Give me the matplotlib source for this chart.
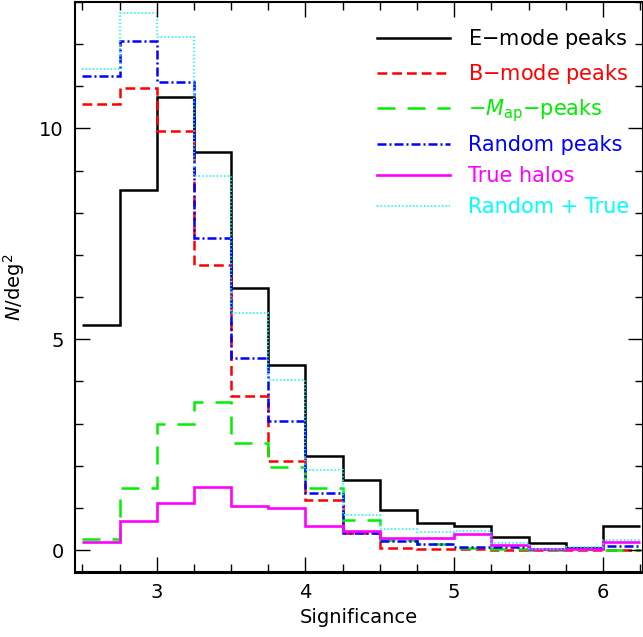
import numpy as np
import matplotlib
matplotlib.use("Agg")
import matplotlib.pyplot as plt
from matplotlib.ticker import MultipleLocator

# bin edges of the significance histogram
edges = np.arange(2.5, 6.2501, 0.25)

# number density of peaks per bin (N/deg^2)
e_mode = [5.34, 8.55, 10.74, 9.45, 6.22, 4.39, 2.23, 1.66, 0.95, 0.64, 0.57, 0.31, 0.17, 0.05, 0.57]
b_mode = [10.57, 10.97, 9.95, 6.75, 3.66, 2.11, 1.19, 0.40, 0.05, 0.03, 0.02, 0.01, 0.0, 0.0, 0.0]
map_peaks = [0.26, 1.47, 2.99, 3.52, 2.54, 1.98, 1.47, 0.71, 0.24, 0.14, 0.05, 0.02, 0.01, 0.02, 0.0]
random_peaks = [11.24, 12.07, 11.09, 7.39, 4.56, 3.06, 1.36, 0.40, 0.22, 0.15, 0.08, 0.07, 0.02, 0.05, 0.1]
true_halos = [0.19, 0.68, 1.11, 1.49, 1.05, 0.99, 0.56, 0.46, 0.29, 0.29, 0.37, 0.12, 0.02, 0.03, 0.19]
random_true = [11.42, 12.74, 12.17, 8.88, 5.63, 4.04, 1.90, 0.83, 0.50, 0.43, 0.46, 0.17, 0.03, 0.07, 0.24]

labels = ['E$-$mode peaks', 'B$-$mode peaks', r'$-M_{\rm ap}$$-$peaks',
          'Random peaks', 'True halos', 'Random + True']

plt.rcParams['font.family'] = ['DejaVu Sans']
plt.rcParams['mathtext.fontset'] = 'dejavusans'

fig = plt.figure(figsize=(6.43, 6.37), dpi=100)
ax = fig.add_axes([0.1166, 0.102, 0.8834, 0.895])

series = [
    (e_mode, 'black', '-', 1.8),
    (b_mode, 'red', (0, (3.9, 2.0)), 1.8),
    (map_peaks, '#00ee00', (0, (7.2, 4.8)), 1.8),
    (random_peaks, 'blue', (0, (3.6, 1.2, 0.8, 1.2)), 1.8),
    (true_halos, 'magenta', '-', 1.9),
    (random_true, 'cyan', (0, (0.7, 1.3)), 1.3),
]

handles = []
for (vals, col, ls, lw), lab in zip(series, labels):
    ax.stairs(vals, edges, color=col, linestyle=ls, linewidth=lw,
              baseline=None, label=lab)
    handles.append(ax.plot([], [], color=col, linestyle=ls, linewidth=lw)[0])

ax.set_xlim(2.45, 6.27)
ax.set_ylim(-0.52, 13.0)

ax.xaxis.set_major_locator(MultipleLocator(1))
ax.xaxis.set_minor_locator(MultipleLocator(0.25))
ax.yaxis.set_major_locator(MultipleLocator(5))
ax.yaxis.set_minor_locator(MultipleLocator(1))
ax.tick_params(which='both', direction='in', top=True, right=True,
               labelsize=14, width=1.0)
ax.tick_params(which='major', length=11, pad=8)
ax.tick_params(which='minor', length=5.5)
for sp in ax.spines.values():
    sp.set_linewidth(1.5)
ax.spines['bottom'].set_linewidth(2.2)

ax.set_xlabel('Significance', fontsize=14, labelpad=4)
ax.set_ylabel(r'$N$/deg$^2$', fontsize=14, labelpad=9)

leg = ax.legend(handles, labels, loc='upper right', frameon=False,
                fontsize=15, handlelength=3.5, handletextpad=0.85,
                labelspacing=0.53, borderaxespad=0.0, borderpad=0.0,
                bbox_to_anchor=(0.975, 0.956))
for txt, (vals, col, ls, lw) in zip(leg.get_texts(), series):
    txt.set_color(col)

fig.savefig('out.png', dpi=100)
